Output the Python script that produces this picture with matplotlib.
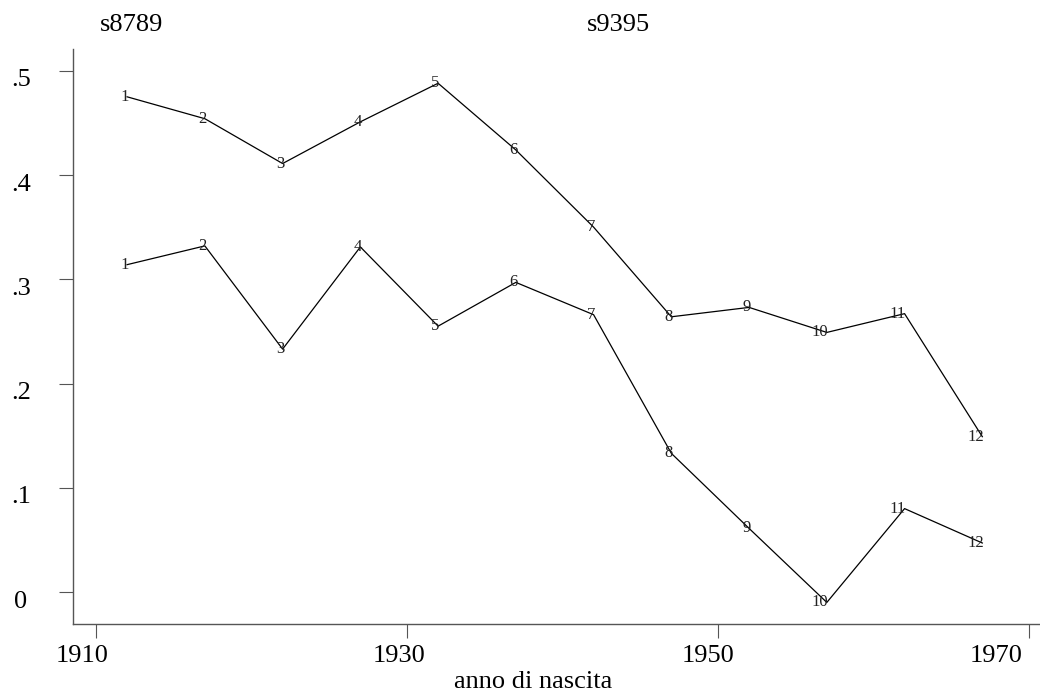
import matplotlib
matplotlib.use('Agg')
import matplotlib.pyplot as plt
import matplotlib.transforms as mtransforms

plt.rcParams['font.family'] = ['Liberation Serif', 'DejaVu Serif']

# dati
anni = [1912, 1917, 1922, 1927, 1932, 1937, 1942, 1947, 1952, 1957, 1962, 1967]
etichette = ['1', '2', '3', '4', '5', '6', '7', '8', '9', '10', '11', '12']
s8789 = [0.475, 0.454, 0.411, 0.451, 0.488, 0.424, 0.350, 0.264, 0.273, 0.249, 0.267, 0.149]
s9395 = [0.314, 0.332, 0.233, 0.331, 0.255, 0.297, 0.266, 0.133, 0.061, -0.010, 0.080, 0.047]
xticks = [1910, 1930, 1950, 1970]
yticks = [0, 0.1, 0.2, 0.3, 0.4, 0.5]
ylabels = ['0', '.1', '.2', '.3', '.4', '.5']
grigio = '#555555'

fig = plt.figure(figsize=(10.4, 6.94), dpi=100)
ax = fig.add_axes([73/1040, 0.1004, 1 - 73/1040, 0.929 - 0.1004])

for serie in (s8789, s9395):
    ax.plot(anni, serie, color='black', lw=0.9)
    for a, v, t in zip(anni, serie, etichette):
        ax.annotate(t, (a, v), xytext=(1, 0), textcoords='offset points',
                    ha='right', va='center', fontsize=12, color='#222222')

ax.set_xlim(1908.52, 1970.71)
ax.set_ylim(-0.031, 0.5206)
ax.set_xticks(xticks)
ax.set_yticks(yticks)
ax.set_yticklabels(ylabels)

for s in ['top', 'right']:
    ax.spines[s].set_visible(False)
for s in ['left', 'bottom']:
    ax.spines[s].set_color(grigio)
    ax.spines[s].set_linewidth(1)

ax.tick_params(axis='both', length=10, width=0.8, color=grigio, labelsize=19)
ax.tick_params(axis='y', pad=27.4)
ax.tick_params(axis='x', pad=5)

# spostamenti come nel grafico originale
for tick in ax.yaxis.get_major_ticks():
    tick.label1.set_horizontalalignment('center')
    tick.label1.set_transform(tick.label1.get_transform() +
                              mtransforms.ScaledTranslation(0, -0.07, fig.dpi_scale_trans))
for tick, dx in zip(ax.xaxis.get_major_ticks(), [-14, -8, -10, -33]):
    tick.label1.set_transform(tick.label1.get_transform() +
                              mtransforms.ScaledTranslation(dx/100, 0, fig.dpi_scale_trans))

ax.set_xlabel('anno di nascita', fontsize=19)
ax.xaxis.label.set_va('center')
ax.xaxis.set_label_coords(0.4757, -0.1003)

fig.text(131.7/1040, 1 - 25/694, 's8789', fontsize=19, ha='center', va='center')
fig.text(618/1040, 1 - 25/694, 's9395', fontsize=19, ha='center', va='center')

fig.savefig('out.png', dpi=100)
